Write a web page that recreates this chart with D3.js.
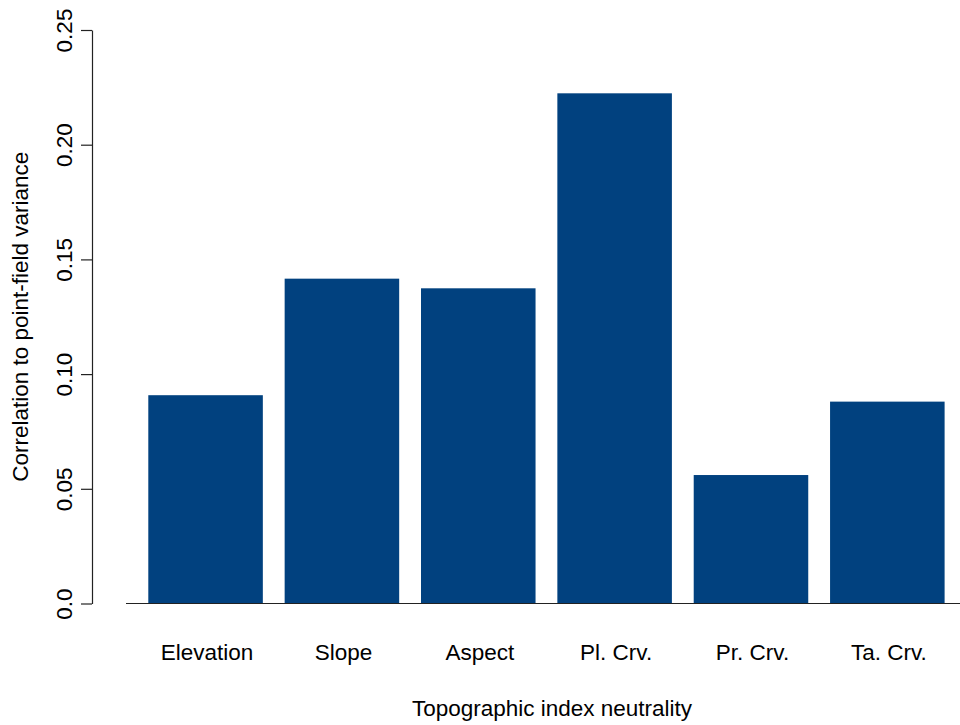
<!DOCTYPE html>
<html>
<head>
<meta charset="utf-8">
<script src="https://cdn.jsdelivr.net/npm/d3@7"></script>
<style>
  html, body { margin: 0; padding: 0; background: #fff; }
  svg text { font-family: "Liberation Sans", Arial, Helvetica, sans-serif; fill: #000; }
</style>
</head>
<body>
<svg id="chart" width="960" height="725"></svg>
<script>
// Topographic indices and their correlation to point-field variance
const categories = ["Elevation", "Slope", "Aspect", "Pl. Crv.", "Pr. Crv.", "Ta. Crv."];
const values = [0.0908, 0.1416, 0.1374, 0.2224, 0.0560, 0.0880];
const tickValues = [0, 0.05, 0.10, 0.15, 0.20, 0.25];
const tickLabels = ["0.0", "0.05", "0.10", "0.15", "0.20", "0.25"];

const svg = d3.select("#chart");
const barColor = "#01417f";
const fontSize = 22.5;

const y = d3.scaleLinear().domain([0, 0.25]).range([603.5, 30]);
const x = d3.scaleBand()
  .domain(categories)
  .range([148.3, 944.6])
  .paddingInner(0.16)
  .paddingOuter(0);

// bars
svg.append("g")
  .selectAll("rect")
  .data(values)
  .join("rect")
  .attr("x", (d, i) => x(categories[i]))
  .attr("width", x.bandwidth())
  .attr("y", d => y(d))
  .attr("height", d => y(0) - y(d))
  .attr("fill", barColor);

// baseline at zero
svg.append("line")
  .attr("x1", 126).attr("x2", 960)
  .attr("y1", y(0)).attr("y2", y(0))
  .attr("stroke", "#222").attr("stroke-width", 1.2);

// y axis
const yAxis = d3.axisLeft(y)
  .tickValues(tickValues)
  .tickFormat((d, i) => tickLabels[i])
  .tickSize(11)
  .tickSizeOuter(0);

const gy = svg.append("g")
  .attr("transform", "translate(92,0)")
  .call(yAxis);
gy.select(".domain").attr("stroke", "#222").attr("stroke-width", 1.2);
gy.selectAll(".tick line").attr("stroke", "#222").attr("stroke-width", 1.2);
gy.selectAll(".tick text")
  .attr("x", null).attr("dy", null)
  .attr("transform", "translate(-20,0) rotate(-90)")
  .attr("text-anchor", "middle")
  .style("font-size", fontSize + "px")
  .style("font-family", "'Liberation Sans', Arial, sans-serif")
  .attr("fill", "#000");

// category labels
svg.append("g")
  .selectAll("text")
  .data(categories)
  .join("text")
  .attr("x", d => x(d) + x.bandwidth() / 2 + 1.5)
  .attr("y", 660)
  .attr("text-anchor", "middle")
  .style("font-size", fontSize + "px")
  .text(d => d);

// axis titles
svg.append("text")
  .attr("x", 552).attr("y", 716)
  .attr("text-anchor", "middle")
  .style("font-size", fontSize + "px")
  .text("Topographic index neutrality");

svg.append("text")
  .attr("transform", `translate(28,${(y(0) + y(0.25)) / 2}) rotate(-90)`)
  .attr("text-anchor", "middle")
  .style("font-size", fontSize + "px")
  .text("Correlation to point-field variance");
</script>
</body>
</html>
